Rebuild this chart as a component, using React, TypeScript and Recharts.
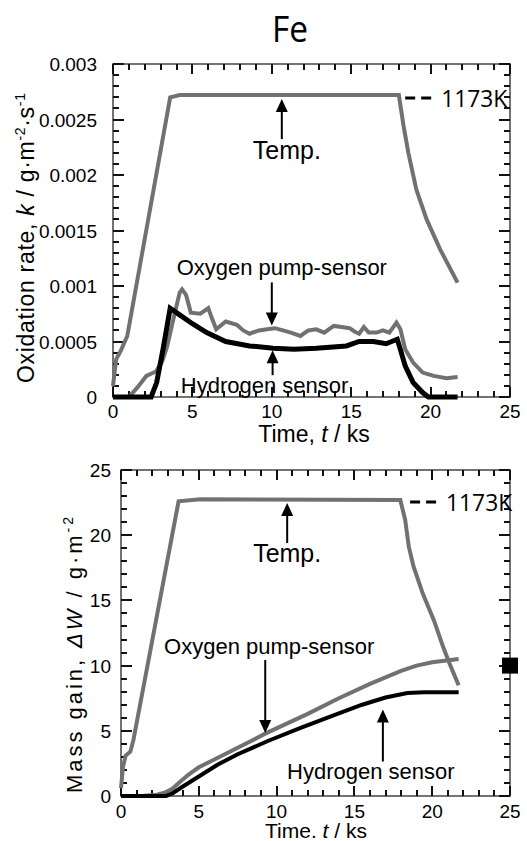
import { ComposedChart, Line, XAxis, YAxis, ReferenceArea, ReferenceDot, Scatter } from "recharts";

// t: time / ks, v: value
const tempRate = [
  { t: 0, v: 0.0001 }, { t: 0.2, v: 0.00034 }, { t: 0.5, v: 0.00042 }, { t: 0.9, v: 0.00055 },
  { t: 3.6, v: 0.0027 }, { t: 4.2, v: 0.00272 }, { t: 10, v: 0.00272 }, { t: 18, v: 0.00272 },
  { t: 18.3, v: 0.00244 }, { t: 18.6, v: 0.0022 }, { t: 19.1, v: 0.00187 }, { t: 19.75, v: 0.0016 },
  { t: 20.6, v: 0.00133 }, { t: 21.7, v: 0.00103 },
];

const oxygenRate = [
  { t: 0, v: 0 }, { t: 1.0, v: 0 }, { t: 1.5, v: 0.00008 }, { t: 2.1, v: 0.00019 }, { t: 2.7, v: 0.00023 },
  { t: 3.1, v: 0.00032 }, { t: 3.4, v: 0.00045 }, { t: 3.8, v: 0.0007 }, { t: 4.2, v: 0.00094 },
  { t: 4.35, v: 0.00097 }, { t: 4.6, v: 0.00092 }, { t: 4.9, v: 0.00076 }, { t: 5.5, v: 0.00075 },
  { t: 6.0, v: 0.0008 }, { t: 6.2, v: 0.00072 }, { t: 6.5, v: 0.00061 }, { t: 7.1, v: 0.00068 },
  { t: 7.8, v: 0.00065 }, { t: 8.2, v: 0.0006 }, { t: 8.6, v: 0.00057 }, { t: 9.2, v: 0.0006 },
  { t: 9.7, v: 0.00061 }, { t: 10.2, v: 0.00062 }, { t: 10.7, v: 0.0006 }, { t: 11.2, v: 0.00058 },
  { t: 11.8, v: 0.00055 }, { t: 12.3, v: 0.0006 }, { t: 12.8, v: 0.00061 }, { t: 13.3, v: 0.00058 },
  { t: 13.9, v: 0.00064 }, { t: 14.4, v: 0.00063 }, { t: 14.9, v: 0.00062 }, { t: 15.2, v: 0.00059 },
  { t: 15.5, v: 0.00057 }, { t: 15.8, v: 0.00063 }, { t: 16.1, v: 0.00058 }, { t: 16.6, v: 0.00058 },
  { t: 17.0, v: 0.0006 }, { t: 17.4, v: 0.00058 }, { t: 17.85, v: 0.00067 }, { t: 18.1, v: 0.00061 },
  { t: 18.4, v: 0.00043 }, { t: 18.9, v: 0.00031 }, { t: 19.5, v: 0.00022 }, { t: 20.2, v: 0.00019 },
  { t: 21.0, v: 0.00017 }, { t: 21.7, v: 0.00018 },
];

const hydrogenRate = [
  { t: 0, v: 0 }, { t: 2.4, v: 0 }, { t: 2.75, v: 0.00013 }, { t: 3.15, v: 0.00043 }, { t: 3.6, v: 0.0008 },
  { t: 4.2, v: 0.00074 }, { t: 5.0, v: 0.00066 }, { t: 5.9, v: 0.00058 }, { t: 7.1, v: 0.0005 },
  { t: 8.6, v: 0.00046 }, { t: 10.1, v: 0.00044 }, { t: 11.4, v: 0.00043 }, { t: 12.8, v: 0.00044 },
  { t: 14.7, v: 0.00046 }, { t: 15.5, v: 0.0005 }, { t: 16.4, v: 0.0005 }, { t: 17.2, v: 0.00048 },
  { t: 17.9, v: 0.00052 }, { t: 18.05, v: 0.00045 }, { t: 18.4, v: 0.00028 }, { t: 18.9, v: 0.00013 },
  { t: 19.5, v: 0.00004 }, { t: 19.85, v: 0 }, { t: 21.7, v: 0 },
];

const tempMass = [
  { t: 0, v: 0.6 }, { t: 0.13, v: 2.25 }, { t: 0.3, v: 3.1 }, { t: 0.6, v: 3.4 }, { t: 0.8, v: 4.3 },
  { t: 3.7, v: 22.6 }, { t: 5.1, v: 22.75 }, { t: 17.95, v: 22.7 }, { t: 18.26, v: 21.2 },
  { t: 18.5, v: 19.1 }, { t: 18.8, v: 17.6 }, { t: 19.4, v: 15.5 }, { t: 20.1, v: 13.5 },
  { t: 20.7, v: 11.45 }, { t: 21.1, v: 10.2 }, { t: 21.7, v: 8.5 },
];

const oxygenMass = [
  { t: 0, v: 0 }, { t: 1.5, v: 0.02 }, { t: 2.3, v: 0.1 }, { t: 2.8, v: 0.25 }, { t: 3.3, v: 0.55 },
  { t: 3.8, v: 1.1 }, { t: 4.3, v: 1.6 }, { t: 5, v: 2.2 }, { t: 6, v: 2.8 }, { t: 7.5, v: 3.7 },
  { t: 9.3, v: 4.8 }, { t: 12, v: 6.3 }, { t: 14, v: 7.5 }, { t: 16, v: 8.6 }, { t: 17, v: 9.1 },
  { t: 18, v: 9.6 }, { t: 19, v: 10.0 }, { t: 20, v: 10.25 }, { t: 21.7, v: 10.5 },
];

const hydrogenMass = [
  { t: 0, v: 0 }, { t: 2.9, v: 0 }, { t: 3.3, v: 0.2 }, { t: 4.0, v: 0.75 }, { t: 5, v: 1.5 },
  { t: 6.2, v: 2.4 }, { t: 7.5, v: 3.2 }, { t: 9.4, v: 4.2 }, { t: 11.5, v: 5.2 }, { t: 13.7, v: 6.2 },
  { t: 15.5, v: 7.0 }, { t: 17, v: 7.55 }, { t: 18.4, v: 7.9 }, { t: 19.5, v: 7.95 }, { t: 21.7, v: 7.95 },
];

const balanceMass = [{ t: 25, v: 10 }];

const xTicks = [0, 1, 2, 3, 4, 5, 6, 7, 8, 9, 10, 11, 12, 13, 14, 15, 16, 17, 18, 19, 20, 21, 22, 23, 24, 25];
const rateTicks = [
  0, 0.0001, 0.0002, 0.0003, 0.0004, 0.0005, 0.0006, 0.0007, 0.0008, 0.0009, 0.001,
  0.0011, 0.0012, 0.0013, 0.0014, 0.0015, 0.0016, 0.0017, 0.0018, 0.0019, 0.002,
  0.0021, 0.0022, 0.0023, 0.0024, 0.0025, 0.0026, 0.0027, 0.0028, 0.0029, 0.003,
];
const massTicks = [0, 1, 2, 3, 4, 5, 6, 7, 8, 9, 10, 11, 12, 13, 14, 15, 16, 17, 18, 19, 20, 21, 22, 23, 24, 25];

const GRAY = "#717171";
const AX = "#444";
const TK = "#111";
const SANS = "'Liberation Sans', Arial, sans-serif";
const CAL = "'Open Sans', sans-serif";

const isMajorRate = (v: number) => Math.round(v * 10000) % 5 === 0;
const isMajorFive = (v: number) => v % 5 === 0;

// tick labels only; the tick marks are drawn with the frame
const xLabel = (dy: number) => (p: any) =>
  isMajorFive(p.payload.value) ? (
    <text x={p.x} y={Number(p.y) + dy} textAnchor="middle" fontSize={19} fontFamily={SANS} fill="#000">
      {p.payload.value}
    </text>
  ) : (
    <g />
  );

const yLabel = (gap: number, isMajor: (v: number) => boolean) => (p: any) =>
  isMajor(p.payload.value) ? (
    <text x={Number(p.x) - gap} y={Number(p.y) + 7} textAnchor="end" fontSize={19} fontFamily={SANS} fill="#000">
      {p.payload.value}
    </text>
  ) : (
    <g />
  );

// plot frame with inward ticks on all four sides
const frame = (xs: number[], ys: number[], yMax: number, isMajorY: (v: number) => boolean) => (p: any) => {
  const x = Number(p.x);
  const y = Number(p.y);
  const w = Number(p.width);
  const h = Number(p.height);
  const marks: any[] = [];
  xs.forEach((v, i) => {
    const px = Math.round(x + (v / 25) * w);
    const len = isMajorFive(v) ? 10 : 6;
    marks.push(<rect key={`xb${i}`} x={px - 1} y={y + h - len} width={2} height={len} fill={TK} />);
    marks.push(<rect key={`xt${i}`} x={px - 1} y={y} width={2} height={len} fill={TK} />);
  });
  ys.forEach((v, i) => {
    const py = Math.round(y + h - (v / yMax) * h);
    const len = isMajorY(v) ? 11 : 6;
    marks.push(<rect key={`yl${i}`} x={x} y={py - 1} width={len} height={2} fill={TK} />);
    marks.push(<rect key={`yr${i}`} x={x + w - len} y={py - 1} width={len} height={2} fill={TK} />);
  });
  return (
    <g>
      <rect x={x} y={y} width={w} height={h} fill="none" stroke={AX} strokeWidth={1.5} />
      {marks}
    </g>
  );
};

const arrowUp = (x: number, tip: number, tail: number) => (
  <g>
    <line x1={x} x2={x} y1={tail} y2={tip + 10} stroke="#000" strokeWidth={2} />
    <polygon points={`${x},${tip} ${x - 6},${tip + 13} ${x + 6},${tip + 13}`} fill="#000" />
  </g>
);

const arrowDown = (x: number, tip: number, tail: number) => (
  <g>
    <line x1={x} x2={x} y1={tail} y2={tip - 10} stroke="#000" strokeWidth={2} />
    <polygon points={`${x},${tip} ${x - 6},${tip - 13} ${x + 6},${tip - 13}`} fill="#000" />
  </g>
);

const label = (x: number, y: number, text: string, size = 22) => (
  <text x={x} y={y} textAnchor="middle" fontSize={size} fontFamily={SANS} fill="#000">
    {text}
  </text>
);

const k1173 = (p: any, dy: number) => (
  <g>
    <line x1={p.cx} x2={p.cx + 26} y1={p.cy + dy} y2={p.cy + dy} stroke="#000" strokeWidth={3} strokeDasharray="10 6" />
    <text x={p.cx + 36} y={p.cy + dy + 9} fontSize={23} fontFamily={CAL} fill="#000"
      textLength={66} lengthAdjust="spacingAndGlyphs">1173K</text>
  </g>
);

const RateChart = () => (
  <ComposedChart width={527} height={450} margin={{ top: 64, right: 17, left: 0, bottom: 0 }}>
    <XAxis dataKey="t" type="number" domain={[0, 25]} ticks={xTicks} interval={0} tickSize={0} tickMargin={0}
      axisLine={false} tickLine={false} tick={xLabel(21)} height={53} />
    <YAxis dataKey="v" type="number" domain={[0, 0.003]} ticks={rateTicks} interval={0} tickSize={0} tickMargin={0}
      axisLine={false} tickLine={false} width={113} tick={yLabel(16, isMajorRate)} />
    <Line data={tempRate} dataKey="v" stroke={GRAY} strokeWidth={4} dot={false} isAnimationActive={false} />
    <Line data={oxygenRate} dataKey="v" stroke={GRAY} strokeWidth={4} dot={false} isAnimationActive={false} />
    <Line data={hydrogenRate} dataKey="v" stroke="#000" strokeWidth={5} dot={false} isAnimationActive={false} />
    <ReferenceArea x1={0} x2={25} y1={0} y2={0.003} ifOverflow="visible"
      shape={frame(xTicks, rateTicks, 0.003, isMajorRate)} />
    <ReferenceDot x={10.63} y={0.00272} r={0} shape={(p: any) => (
      <g>{arrowUp(p.cx, p.cy + 4, p.cy + 44)}{label(p.cx + 5, p.cy + 64, "Temp.", 25)}</g>
    )} />
    <ReferenceDot x={10} y={0.0006} r={0} shape={(p: any) => (
      <g>{arrowDown(p.cx, p.cy - 5, p.cy - 48)}{label(p.cx + 10, p.cy - 55, "Oxygen pump-sensor")}</g>
    )} />
    <ReferenceDot x={10.05} y={0.00044} r={0} shape={(p: any) => (
      <g>{arrowUp(p.cx, p.cy + 2, p.cy + 27)}{label(p.cx - 8, p.cy + 45, "Hydrogen sensor")}</g>
    )} />
    <ReferenceDot x={18.4} y={0.00272} r={0} shape={(p: any) => k1173(p, 3)} />
  </ComposedChart>
);

const MassChart = () => (
  <ComposedChart width={527} height={420} margin={{ top: 50, right: 17, left: 0, bottom: 0 }}>
    <XAxis dataKey="t" type="number" domain={[0, 25]} ticks={xTicks} interval={0} tickSize={0} tickMargin={0}
      axisLine={false} tickLine={false} tick={xLabel(22)} height={44} />
    <YAxis dataKey="v" type="number" domain={[0, 25]} ticks={massTicks} interval={0} tickSize={0} tickMargin={0}
      axisLine={false} tickLine={false} width={121} tick={yLabel(10, isMajorFive)} />
    <Line data={tempMass} dataKey="v" stroke={GRAY} strokeWidth={4} dot={false} isAnimationActive={false} />
    <Line data={oxygenMass} dataKey="v" stroke={GRAY} strokeWidth={4} dot={false} isAnimationActive={false} />
    <Line data={hydrogenMass} dataKey="v" stroke="#000" strokeWidth={4} dot={false} isAnimationActive={false} />
    <Scatter data={balanceMass} dataKey="v" isAnimationActive={false}
      shape={(p: any) => <rect x={p.cx - 8} y={p.cy - 8} width={16} height={16} fill="#000" />} />
    <ReferenceArea x1={0} x2={25} y1={0} y2={25} ifOverflow="visible"
      shape={frame(xTicks, massTicks, 25, isMajorFive)} />
    <ReferenceDot x={10.68} y={22.7} r={0} shape={(p: any) => (
      <g>{arrowUp(p.cx, p.cy + 3, p.cy + 43)}{label(p.cx, p.cy + 62, "Temp.", 25)}</g>
    )} />
    <ReferenceDot x={9.27} y={4.75} r={0} shape={(p: any) => (
      <g>{arrowDown(p.cx, p.cy - 1, p.cy - 74)}{label(p.cx + 4, p.cy - 80, "Oxygen pump-sensor")}</g>
    )} />
    <ReferenceDot x={16.83} y={7.4} r={0} shape={(p: any) => (
      <g>{arrowUp(p.cx, p.cy + 10, p.cy + 62)}{label(p.cx - 12, p.cy + 79, "Hydrogen sensor")}</g>
    )} />
    <ReferenceDot x={18.58} y={22.7} r={0} shape={(p: any) => k1173(p, 2)} />
  </ComposedChart>
);

// title and axis titles, drawn over both charts
const Labels = () => (
  <svg width={527} height={841} style={{ position: "absolute", left: 0, top: 0, pointerEvents: "none" }}>
    <text x={290} y={42} textAnchor="middle" fontFamily={CAL} fontSize={37} fill="#000"
      textLength={36} lengthAdjust="spacingAndGlyphs">Fe</text>
    <text transform="translate(34,238) rotate(-90)" textAnchor="middle" fontFamily={SANS} fontSize={23} fill="#000"
      textLength={290} lengthAdjust="spacing">
      Oxidation rate, <tspan fontStyle="italic">k</tspan> / g·m<tspan dy={-9} fontSize={14}>-2</tspan>
      <tspan dy={9}>·s</tspan><tspan dy={-9} fontSize={14}>-1</tspan>
    </text>
    <text x={314} y={442} textAnchor="middle" fontFamily={SANS} fontSize={23} fill="#000">
      Time, <tspan fontStyle="italic">t</tspan> / ks
    </text>
    <text transform="translate(82,655) rotate(-90)" textAnchor="middle" fontFamily={SANS} fontSize={22} fill="#000"
      textLength={276} lengthAdjust="spacing">
      Mass gain,  <tspan fontStyle="italic">ΔW</tspan> / g·m<tspan dy={-9} fontSize={14}>-2</tspan>
    </text>
    <text x={316} y={838} textAnchor="middle" fontFamily={SANS} fontSize={21} fill="#000">
      Time. <tspan fontStyle="italic">t</tspan> / ks
    </text>
  </svg>
);

export default function App() {
  return (
    <div style={{ position: "absolute", left: 0, top: 0, width: 527, height: 841, background: "#fff", overflow: "hidden" }}>
      <div style={{ position: "absolute", left: 0, top: 0 }}>
        <RateChart />
      </div>
      <div style={{ position: "absolute", left: 0, top: 420 }}>
        <MassChart />
      </div>
      <Labels />
    </div>
  );
}
